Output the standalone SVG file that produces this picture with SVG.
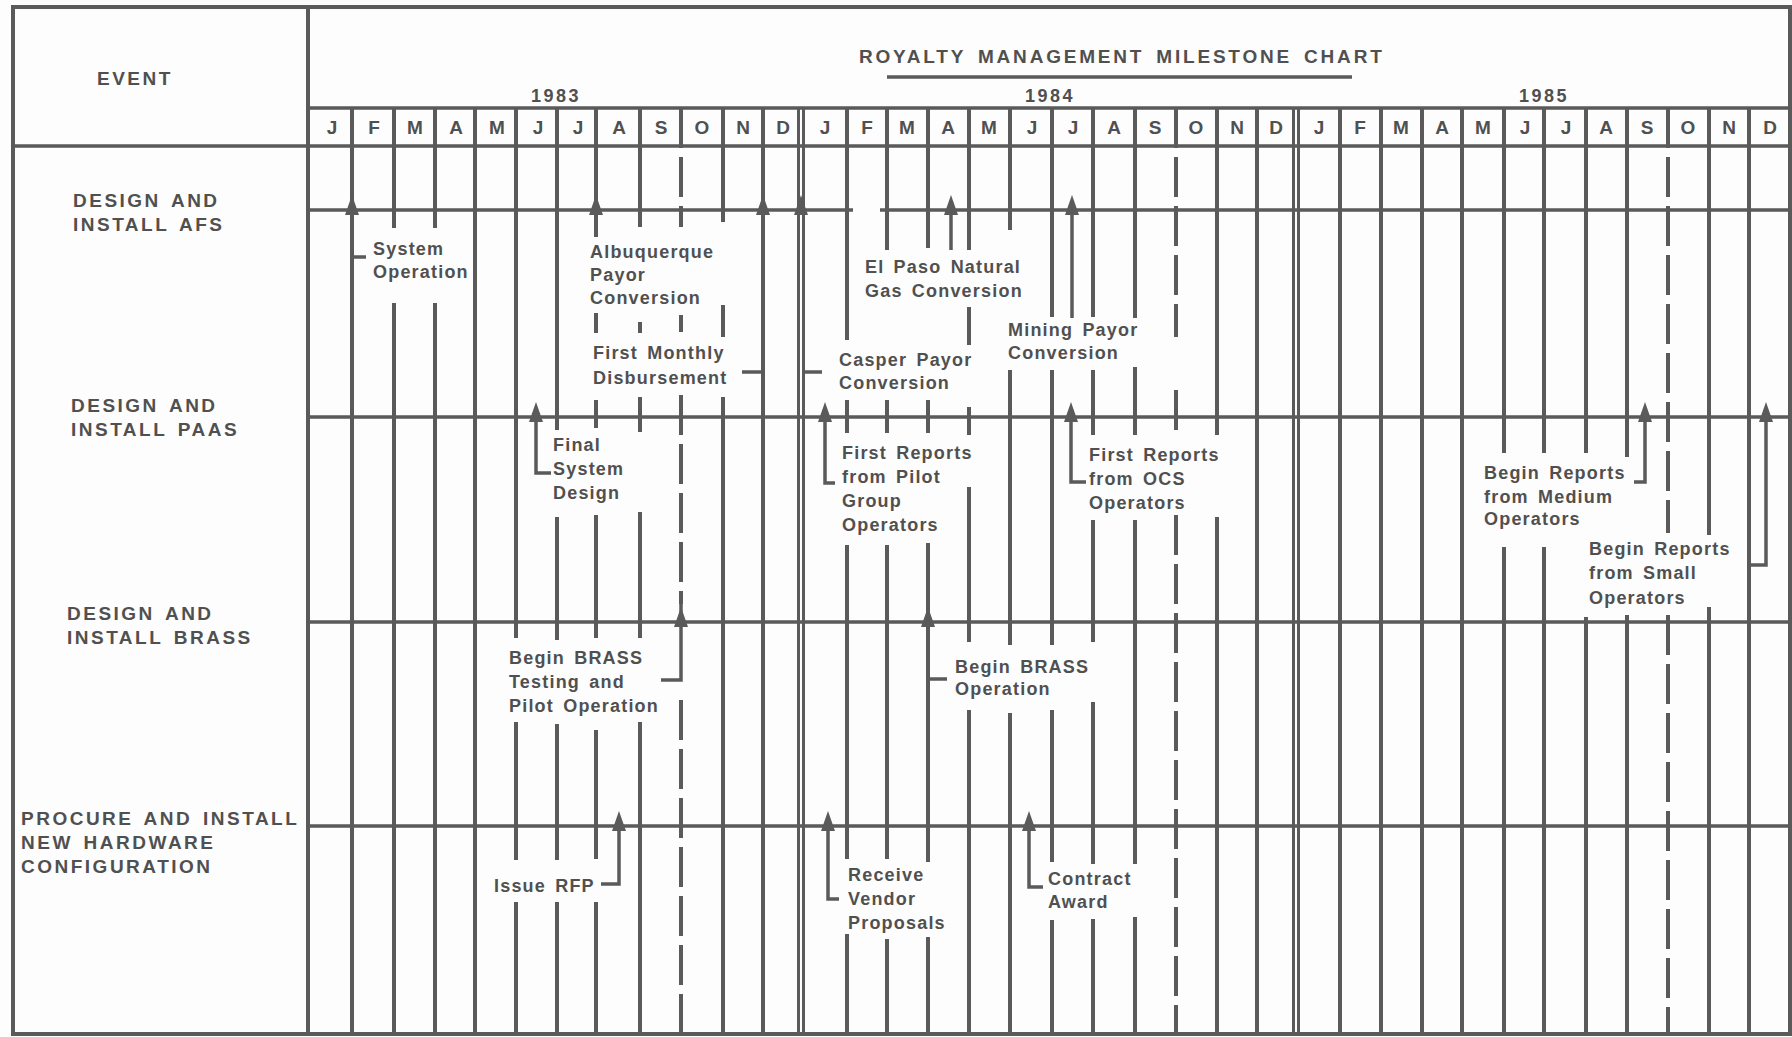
<svg xmlns="http://www.w3.org/2000/svg" xmlns:xlink="http://www.w3.org/1999/xlink" width="1792" height="1037" viewBox="0 0 1792 1037">
<style>
.ln{stroke:#5a5a5a;stroke-width:4;fill:none;stroke-linecap:butt}
.dl{stroke:#5a5a5a;stroke-width:3;fill:none}
.ds{stroke:#5a5a5a;stroke-width:4;fill:none;stroke-dasharray:40 9}
.hl{stroke:#5a5a5a;stroke-width:3.5;fill:none}
.ld{stroke:#5a5a5a;stroke-width:3.5;fill:none;stroke-linejoin:miter}
.ar{fill:#5a5a5a}
text{font-family:"Liberation Sans",Arial,Helvetica,sans-serif;font-weight:bold;fill:#505050}
.hd{font-size:19px;letter-spacing:2.5px;word-spacing:3px}
.tt{font-size:19px;letter-spacing:2.8px;word-spacing:4px}
.yr{font-size:18px;letter-spacing:2.5px;text-anchor:middle}
.mo{font-size:19px;text-anchor:middle}
.lb{font-size:18px;letter-spacing:1.2px;word-spacing:3px}
</style>
<defs>
<path id="arr" d="M0,-15 L7,5 L-7,5 Z"/>
</defs>
<rect width="1792" height="1037" fill="#fdfdfd"/>
<g id="frame">
<rect x="13" y="7" width="1777" height="1027" class="ln"/>
<path class="ln" d="M308,7 V1034"/>
<path class="hl" d="M13,146 H1790 M308,108 H1790"/>
<path class="hl" d="M887,77 H1352"/>
<path class="hl" d="M308,210 H853 M880,210 H1790 M308,417 H1790 M308,622 H1790 M308,826 H1790"/>
</g>
<g id="header">
<text class="hd" x="97" y="85">EVENT</text>
<text class="tt" x="859" y="63">ROYALTY MANAGEMENT MILESTONE CHART</text>
<text class="yr" x="556" y="102">1983</text>
<text class="yr" x="1050" y="102">1984</text>
<text class="yr" x="1544" y="102">1985</text>
<g class="mo">
<text class="mo" x="332" y="134">J</text>
<text class="mo" x="374" y="134">F</text>
<text class="mo" x="415" y="134">M</text>
<text class="mo" x="456" y="134">A</text>
<text class="mo" x="497" y="134">M</text>
<text class="mo" x="538" y="134">J</text>
<text class="mo" x="578" y="134">J</text>
<text class="mo" x="619" y="134">A</text>
<text class="mo" x="661" y="134">S</text>
<text class="mo" x="702" y="134">O</text>
<text class="mo" x="743" y="134">N</text>
<text class="mo" x="783" y="134">D</text>
<text class="mo" x="825" y="134">J</text>
<text class="mo" x="867" y="134">F</text>
<text class="mo" x="907" y="134">M</text>
<text class="mo" x="948" y="134">A</text>
<text class="mo" x="989" y="134">M</text>
<text class="mo" x="1032" y="134">J</text>
<text class="mo" x="1073" y="134">J</text>
<text class="mo" x="1114" y="134">A</text>
<text class="mo" x="1155" y="134">S</text>
<text class="mo" x="1196" y="134">O</text>
<text class="mo" x="1237" y="134">N</text>
<text class="mo" x="1276" y="134">D</text>
<text class="mo" x="1319" y="134">J</text>
<text class="mo" x="1360" y="134">F</text>
<text class="mo" x="1401" y="134">M</text>
<text class="mo" x="1442" y="134">A</text>
<text class="mo" x="1483" y="134">M</text>
<text class="mo" x="1525" y="134">J</text>
<text class="mo" x="1566" y="134">J</text>
<text class="mo" x="1606" y="134">A</text>
<text class="mo" x="1647" y="134">S</text>
<text class="mo" x="1688" y="134">O</text>
<text class="mo" x="1729" y="134">N</text>
<text class="mo" x="1770" y="134">D</text>
</g>
</g>
<g id="month-lines">
<path class="ln" d="M352,108 V1034"/>
<path class="ln" d="M394,108 V228 M394,303 V1034"/>
<path class="ln" d="M435,108 V228 M435,303 V1034"/>
<path class="ln" d="M475,108 V1034"/>
<path class="ln" d="M516,108 V638 M516,722 V860 M516,902 V1034"/>
<path class="ln" d="M557,108 V430 M557,517 V640 M557,724 V860 M557,902 V1034"/>
<path class="ln" d="M596,108 V237 M596,313 V333 M596,400 V428 M596,515 V638 M596,730 V859 M596,902 V1034"/>
<path class="ln" d="M640,108 V227 M640,322 V333 M640,397 V432 M640,512 V638 M640,722 V1034"/>
<path class="ds" d="M681,108 V227 M681,395 V604 M681,700 V1034"/>
<path class="ln" d="M681,315 V332"/>
<path class="ln" d="M723,108 V222 M723,305 V337 M723,397 V1034"/>
<path class="ln" d="M763,108 V1034"/>
<path class="dl" d="M798.5,108 V1034 M803.5,108 V1034"/>
<path class="ln" d="M847,108 V340 M847,400 V433 M847,545 V859 M847,934 V1034"/>
<path class="ln" d="M887,108 V250 M887,400 V433 M887,545 V859 M887,939 V1034"/>
<path class="ln" d="M928,108 V248 M928,400 V433 M928,543 V862 M928,937 V1034"/>
<path class="ln" d="M969,108 V250 M969,307 V345 M969,407 V435 M969,487 V642 M969,710 V1034"/>
<path class="ln" d="M1010,108 V230 M1010,370 V645 M1010,713 V1034"/>
<path class="ln" d="M1052,108 V317 M1052,370 V645 M1052,710 V862 M1052,920 V1034"/>
<path class="ln" d="M1093,108 V317 M1093,370 V435 M1093,520 V642 M1093,702 V864 M1093,919 V1034"/>
<path class="ln" d="M1135,108 V318 M1135,367 V435 M1135,520 V864 M1135,917 V1034"/>
<path class="ds" d="M1176,108 V337 M1176,390 V435 M1176,515 V1034"/>
<path class="ln" d="M1217,108 V435 M1217,517 V1034"/>
<path class="ln" d="M1257,108 V1034"/>
<path class="dl" d="M1293.5,108 V1034 M1298.5,108 V1034"/>
<path class="ln" d="M1340,108 V1034"/>
<path class="ln" d="M1381,108 V1034"/>
<path class="ln" d="M1422,108 V1034"/>
<path class="ln" d="M1462,108 V1034"/>
<path class="ln" d="M1504,108 V453 M1504,547 V1034"/>
<path class="ln" d="M1544,108 V453 M1544,547 V1034"/>
<path class="ln" d="M1586,108 V453 M1586,617 V1034"/>
<path class="ln" d="M1627,108 V457 M1627,615 V1034"/>
<path class="ds" d="M1668,108 V533 M1668,615 V1034"/>
<path class="ln" d="M1709,108 V535 M1709,607 V1034"/>
<path class="ln" d="M1749,108 V1034"/>
</g>
<g id="connectors">
<path class="ld" d="M352,257 H366"/>
<path class="ld" d="M742,372 H763"/>
<path class="ld" d="M803,372 H822"/>
<path class="ld" d="M951,210 V250"/>
<path class="ld" d="M1072,210 V318"/>
<path class="ld" d="M536,417 V473 H551"/>
<path class="ld" d="M825,417 V483 H835"/>
<path class="ld" d="M1071,417 V482 H1086"/>
<path class="ld" d="M1645,417 V482 H1634"/>
<path class="ld" d="M1766,417 V565 H1749"/>
<path class="ld" d="M681,604 V680 H661"/>
<path class="ld" d="M930,679 H947"/>
<path class="ld" d="M619,826 V884 H601"/>
<path class="ld" d="M828,826 V899 H839"/>
<path class="ld" d="M1029,826 V887 H1043"/>
<g class="ar">
<use xlink:href="#arr" x="352" y="210"/>
<use xlink:href="#arr" x="596" y="210"/>
<use xlink:href="#arr" x="763" y="210"/>
<use xlink:href="#arr" x="801" y="210"/>
<use xlink:href="#arr" x="951" y="210"/>
<use xlink:href="#arr" x="1072" y="210"/>
<use xlink:href="#arr" x="536" y="417"/>
<use xlink:href="#arr" x="825" y="417"/>
<use xlink:href="#arr" x="1071" y="417"/>
<use xlink:href="#arr" x="1645" y="417"/>
<use xlink:href="#arr" x="1766" y="417"/>
<use xlink:href="#arr" x="681" y="622"/>
<use xlink:href="#arr" x="928" y="622"/>
<use xlink:href="#arr" x="619" y="826"/>
<use xlink:href="#arr" x="828" y="826"/>
<use xlink:href="#arr" x="1029" y="826"/>
</g>
</g>
<g id="row-afs"><text class="hd" x="73" y="207">DESIGN AND</text><text class="hd" x="73" y="231">INSTALL AFS</text></g>
<g id="row-paas"><text class="hd" x="71" y="412">DESIGN AND</text><text class="hd" x="71" y="436">INSTALL PAAS</text></g>
<g id="row-brass"><text class="hd" x="67" y="620">DESIGN AND</text><text class="hd" x="67" y="644">INSTALL BRASS</text></g>
<g id="row-hw"><text class="hd" x="21" y="825">PROCURE AND INSTALL</text><text class="hd" x="21" y="849">NEW HARDWARE</text><text class="hd" x="21" y="873">CONFIGURATION</text></g>
<g id="m-system-operation"><text class="lb" x="373" y="255">System</text><text class="lb" x="373" y="278">Operation</text></g>
<g id="m-albuquerque"><text class="lb" x="590" y="258">Albuquerque</text><text class="lb" x="590" y="281">Payor</text><text class="lb" x="590" y="304">Conversion</text></g>
<g id="m-first-monthly"><text class="lb" x="593" y="359">First Monthly</text><text class="lb" x="593" y="384">Disbursement</text></g>
<g id="m-casper"><text class="lb" x="839" y="366">Casper Payor</text><text class="lb" x="839" y="389">Conversion</text></g>
<g id="m-el-paso"><text class="lb" x="865" y="273">El Paso Natural</text><text class="lb" x="865" y="297">Gas Conversion</text></g>
<g id="m-mining"><text class="lb" x="1008" y="336">Mining Payor</text><text class="lb" x="1008" y="359">Conversion</text></g>
<g id="m-final-design"><text class="lb" x="553" y="451">Final</text><text class="lb" x="553" y="475">System</text><text class="lb" x="553" y="499">Design</text></g>
<g id="m-pilot-reports"><text class="lb" x="842" y="459">First Reports</text><text class="lb" x="842" y="483">from Pilot</text><text class="lb" x="842" y="507">Group</text><text class="lb" x="842" y="531">Operators</text></g>
<g id="m-ocs-reports"><text class="lb" x="1089" y="461">First Reports</text><text class="lb" x="1089" y="485">from OCS</text><text class="lb" x="1089" y="509">Operators</text></g>
<g id="m-medium-reports"><text class="lb" x="1484" y="479">Begin Reports</text><text class="lb" x="1484" y="503">from Medium</text><text class="lb" x="1484" y="525">Operators</text></g>
<g id="m-small-reports"><text class="lb" x="1589" y="555">Begin Reports</text><text class="lb" x="1589" y="579">from Small</text><text class="lb" x="1589" y="604">Operators</text></g>
<g id="m-brass-testing"><text class="lb" x="509" y="664">Begin BRASS</text><text class="lb" x="509" y="688">Testing and</text><text class="lb" x="509" y="712">Pilot Operation</text></g>
<g id="m-brass-operation"><text class="lb" x="955" y="673">Begin BRASS</text><text class="lb" x="955" y="695">Operation</text></g>
<g id="m-issue-rfp"><text class="lb" x="494" y="892">Issue RFP</text></g>
<g id="m-vendor-proposals"><text class="lb" x="848" y="881">Receive</text><text class="lb" x="848" y="905">Vendor</text><text class="lb" x="848" y="929">Proposals</text></g>
<g id="m-contract-award"><text class="lb" x="1048" y="885">Contract</text><text class="lb" x="1048" y="908">Award</text></g>
</svg>
